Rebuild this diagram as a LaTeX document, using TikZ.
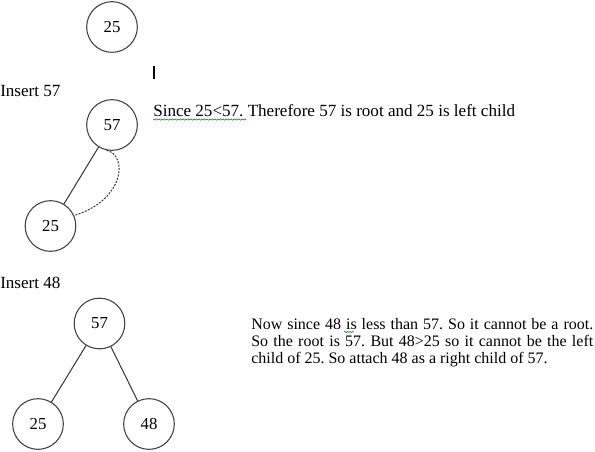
\documentclass[tikz,border=0pt]{standalone}
\usepackage{fontspec}
\setmainfont{Liberation Serif}
\usetikzlibrary{decorations.pathmorphing}
\begin{document}
\frenchspacing
\begin{tikzpicture}[x=0.75pt,y=-0.75pt,
  bnode/.style={circle,draw=black!75,line width=0.8pt,minimum size=38pt,inner sep=0pt,font=\fontsize{12.6pt}{15pt}\selectfont},
  edge/.style={draw=black!80,line width=0.75pt},
  txt/.style={anchor=base west,inner sep=0pt,font=\fontsize{12.8pt}{15pt}\selectfont},
  ptxt/.style={txt,font=\fontsize{12pt}{14pt}\selectfont},
  wavy/.style={draw=green!55!black,line width=0.4pt,decorate,decoration={snake,amplitude=0.5pt,segment length=2pt}}]
\useasboundingbox (0,0) rectangle (595,451);
% first tree
\node[bnode] (a25) at (112,27) {25};
\draw[line width=1.6pt] (154,66) -- (154,79);
% second
\node[txt] (ins57) at (0,96) {Insert 57};
\node[bnode] (b57) at (112,125) {57};
\node[bnode] (b25) at (50.5,226) {25};
\draw[edge] (b57) -- (b25);
\draw[edge,dash pattern=on 1.5pt off 1pt] (b57.-102) .. controls (128,155) and (125,200) .. (b25.24);
\node[txt] (since) at (153,116) {Since 25<57. Therefore 57 is root and 25 is left child};
\draw[wavy] (153,119.5) -- (246,119.5);
% third
\node[txt] (ins48) at (0,288) {Insert 48};
\node[bnode] (c57) at (99.5,323.5) {57};
\node[bnode] (c25) at (38,424) {25};
\node[bnode] (c48) at (149,424) {48};
\draw[edge] (c57) -- (c25);
\draw[edge] (c57) -- (c48);
\node[ptxt] (p1) at (251,329) {\makebox[256.5pt][s]{Now since 48 is less than 57. So it cannot be a root.}};
\node[ptxt] (p2) at (251,346) {\makebox[256.5pt][s]{So the root is 57. But 48>25 so it cannot be the left}};
\node[ptxt] (p3) at (251,363) {child of 25. So attach 48 as a right child of 57.};
\draw[wavy] (344,332) -- (354,332);
\end{tikzpicture}
\end{document}
